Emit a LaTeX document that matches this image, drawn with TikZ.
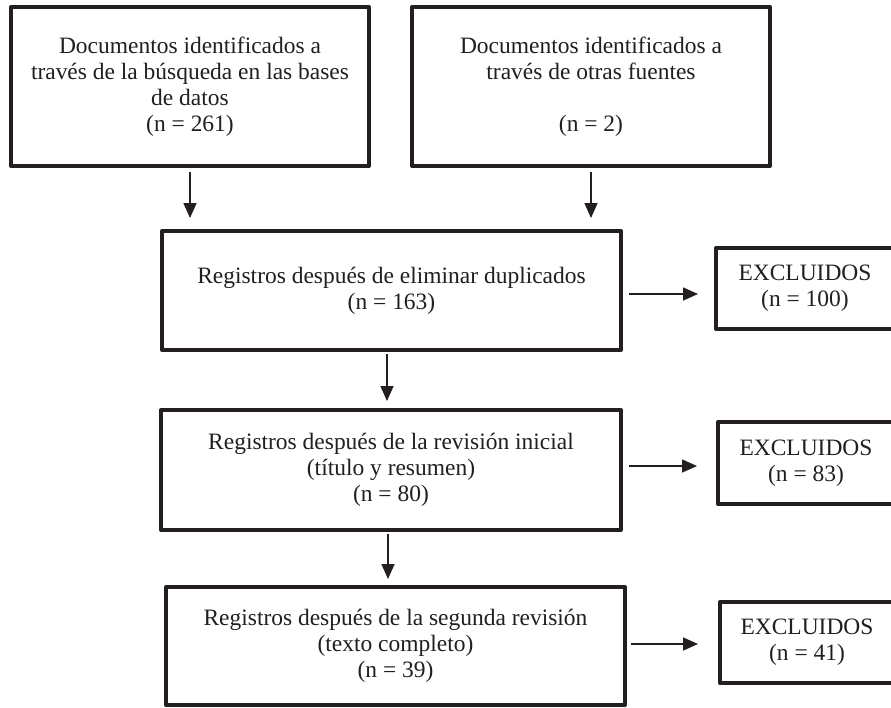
\documentclass[tikz,border=0pt]{standalone}
\usepackage{fontspec}
\setmainfont{Liberation Serif}
\usetikzlibrary{arrows.meta}
\definecolor{ink}{RGB}{35,31,32}
\begin{document}
\begin{tikzpicture}[x=0.75pt,y=-0.75pt,
  box/.style={draw=ink, line width=3pt, rectangle, inner sep=0pt, align=center,
    text=ink, font=\fontsize{17.6pt}{19.5pt}\selectfont, line join=round},
  arr/.style={draw=ink, line width=1.2pt, -{Triangle[length=11.25pt,width=9.75pt]}}]
\fill[white] (0,0) rectangle (891,707);
\useasboundingbox (0,0) rectangle (891,707);
\begin{scope}
\clip (0,0) rectangle (891,707);
\node[box, minimum width=268.5pt, minimum height=119.25pt] (b1) at (190,86.5)
  {Documentos identificados a\\ través de la búsqueda en las bases\\ de datos\\ (n = 261)};
\node[box, minimum width=268.5pt, minimum height=119.25pt] (b2) at (591,86.5)
  {Documentos identificados a\\ través de otras fuentes\\ \strut\\ (n = 2)};
\node[box, minimum width=344.25pt, minimum height=89.25pt] (b3) at (391.5,290.5)
  {Registros después de eliminar duplicados\\ (n = 163)};
\node[box, minimum width=133.5pt, minimum height=60.75pt] (e1) at (805,288.5)
  {EXCLUIDOS\\ (n = 100)};
\node[box, minimum width=345pt, minimum height=90pt] (b4) at (391,470)
  {Registros después de la revisión inicial\\ (título y resumen)\\ (n = 80)};
\node[box, minimum width=132pt, minimum height=61.5pt] (e2) at (806,463)
  {EXCLUIDOS\\ (n = 83)};
\node[box, minimum width=344.25pt, minimum height=88.5pt] (b5) at (395.5,646)
  {Registros después de la segunda revisión\\ (texto completo)\\ (n = 39)};
\node[box, minimum width=130.5pt, minimum height=60.75pt] (e3) at (807,642.5)
  {EXCLUIDOS\\ (n = 41)};

\draw[arr, shorten <=3pt, shorten >=8.25pt] (b1.south) -- (b1.south |- b3.north);
\draw[arr, shorten <=3pt, shorten >=8.25pt] (b2.south) -- (b2.south |- b3.north);

\coordinate (p3) at ([yshift=-2.625pt]b3.east);
\draw[arr, shorten <=4.5pt, shorten >=12pt] (p3) -- (p3 -| e1.west);
\coordinate (p4) at ([yshift=3pt]b4.east);
\draw[arr, shorten <=4.5pt, shorten >=14.25pt] (p4) -- (p4 -| e2.west);
\coordinate (p5) at ([yshift=1.5pt]b5.east);
\draw[arr, shorten <=3pt, shorten >=15pt] (p5) -- (p5 -| e3.west);

\coordinate (q6) at ([xshift=-3.375pt]b3.south);
\draw[arr, shorten <=1.5pt, shorten >=5.25pt] (q6) -- (q6 |- b4.north);
\coordinate (q7) at ([xshift=-2.25pt]b4.south);
\draw[arr, shorten <=1.5pt, shorten >=4.5pt] (q7) -- (q7 |- b5.north);
\end{scope}
\end{tikzpicture}
\end{document}
